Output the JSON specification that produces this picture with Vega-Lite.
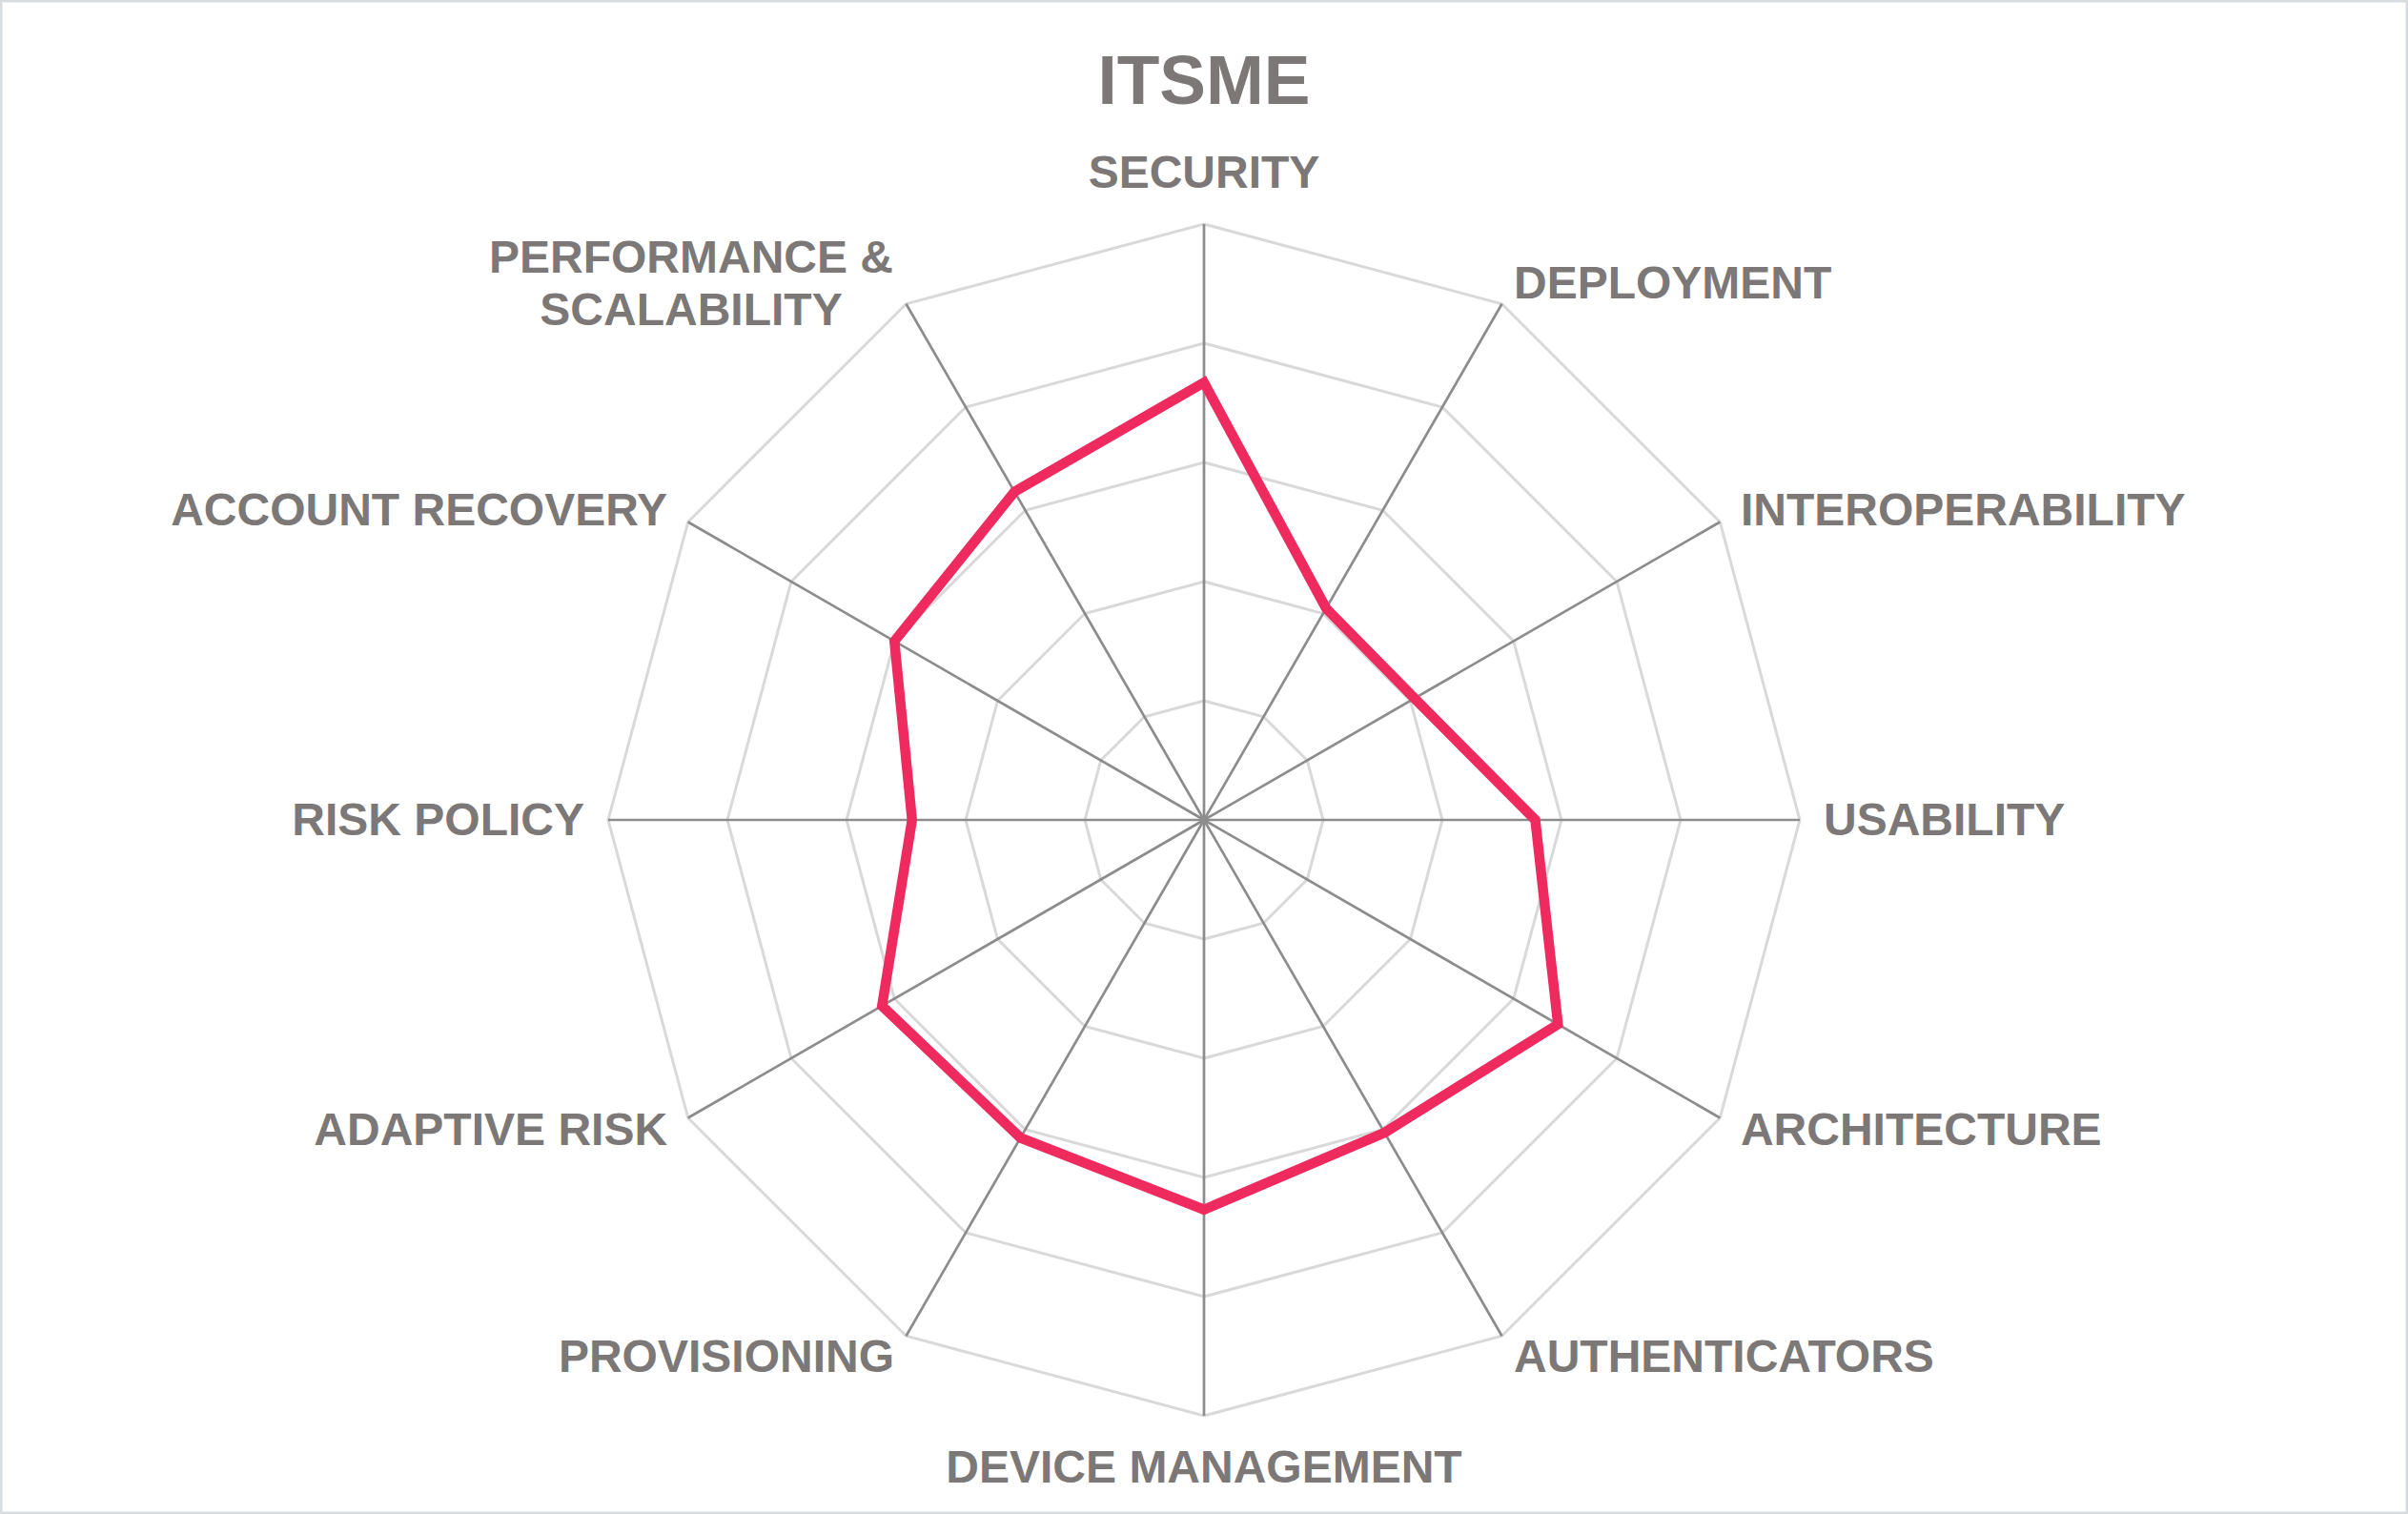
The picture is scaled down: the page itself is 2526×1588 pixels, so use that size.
{
  "$schema": "https://vega.github.io/schema/vega-lite/v6.json",
  "width": 2526,
  "height": 1588,
  "autosize": "none",
  "padding": 0,
  "background": "white",
  "config": {"view": {"stroke": "#d9dcdf", "strokeWidth": 5}, "font": "Liberation Sans"},
  "title": {"text": "ITSME", "fontSize": 73, "fontWeight": "bold", "color": "#7c7877", "font": "Liberation Sans", "anchor": "middle", "baseline": "alphabetic", "offset": -182},
  "data": {"values": [
    {"axis": "SECURITY", "order": 0, "score": 3.67},
    {"axis": "DEPLOYMENT", "order": 1, "score": 2.05},
    {"axis": "INTEROPERABILITY", "order": 2, "score": 2.04},
    {"axis": "USABILITY", "order": 3, "score": 2.78},
    {"axis": "ARCHITECTURE", "order": 4, "score": 3.43},
    {"axis": "AUTHENTICATORS", "order": 5, "score": 3.03},
    {"axis": "DEVICE MANAGEMENT", "order": 6, "score": 3.27},
    {"axis": "PROVISIONING", "order": 7, "score": 3.08},
    {"axis": "ADAPTIVE RISK", "order": 8, "score": 3.12},
    {"axis": "RISK POLICY", "order": 9, "score": 2.45},
    {"axis": "ACCOUNT RECOVERY", "order": 10, "score": 3.0},
    {"axis": "PERFORMANCE &\nSCALABILITY", "order": 11, "score": 3.18}
  ]},
  "transform": [
    {"calculate": "datum.order * PI / 6", "as": "angle"}
  ],
  "layer": [
    {
      "transform": [
        {"calculate": "[1,2,3,4,5]", "as": "rings"},
        {"flatten": ["rings"]},
        {"calculate": "datum.rings * sin(datum.angle)", "as": "gx"},
        {"calculate": "datum.rings * cos(datum.angle)", "as": "gy"}
      ],
      "mark": {"type": "line", "interpolate": "linear-closed", "color": "#d9d9d9", "strokeWidth": 3},
      "encoding": {
        "x": {"field": "gx", "type": "quantitative", "scale": {"domain": [-10.104, 10.104], "nice": false, "zero": false}, "axis": null},
        "y": {"field": "gy", "type": "quantitative", "scale": {"domain": [-5.824, 6.88], "nice": false, "zero": false}, "axis": null},
        "detail": {"field": "rings", "type": "nominal"},
        "order": {"field": "order", "type": "quantitative"}
      }
    },
    {
      "transform": [
        {"calculate": "5 * sin(datum.angle)", "as": "sx"},
        {"calculate": "5 * cos(datum.angle)", "as": "sy"}
      ],
      "mark": {"type": "rule", "color": "#8c8c8c", "strokeWidth": 2.7},
      "encoding": {
        "x": {"field": "sx", "type": "quantitative", "scale": {"domain": [-10.104, 10.104], "nice": false, "zero": false}, "axis": null},
        "y": {"field": "sy", "type": "quantitative", "scale": {"domain": [-5.824, 6.88], "nice": false, "zero": false}, "axis": null},
        "x2": {"datum": 0},
        "y2": {"datum": 0}
      }
    },
    {
      "transform": [
        {"calculate": "datum.score * sin(datum.angle)", "as": "px"},
        {"calculate": "datum.score * cos(datum.angle)", "as": "py"}
      ],
      "mark": {"type": "line", "interpolate": "linear-closed", "color": "#ef2a5f", "strokeWidth": 10.5, "strokeJoin": "miter"},
      "encoding": {
        "x": {"field": "px", "type": "quantitative", "scale": {"domain": [-10.104, 10.104], "nice": false, "zero": false}, "axis": null},
        "y": {"field": "py", "type": "quantitative", "scale": {"domain": [-5.824, 6.88], "nice": false, "zero": false}, "axis": null},
        "order": {"field": "order", "type": "quantitative"}
      }
    },
    {
      "transform": [
        {"filter": "datum.order >= 1 && datum.order <= 5"},
        {"calculate": "5.2 * sin(datum.angle)", "as": "lx"},
        {"calculate": "5.2 * cos(datum.angle)", "as": "ly"}
      ],
      "mark": {"type": "text", "align": "left", "baseline": "middle", "dy": 2, "fontSize": 48, "fontWeight": "bold", "color": "#7c7877", "font": "Liberation Sans"},
      "encoding": {
        "x": {"field": "lx", "type": "quantitative", "scale": {"domain": [-10.104, 10.104], "nice": false, "zero": false}, "axis": null},
        "y": {"field": "ly", "type": "quantitative", "scale": {"domain": [-5.824, 6.88], "nice": false, "zero": false}, "axis": null},
        "text": {"field": "axis", "type": "nominal"}
      }
    },
    {
      "transform": [
        {"filter": "datum.order >= 7 && datum.order <= 10"},
        {"calculate": "5.2 * sin(datum.angle)", "as": "lx"},
        {"calculate": "5.2 * cos(datum.angle)", "as": "ly"}
      ],
      "mark": {"type": "text", "align": "right", "baseline": "middle", "dy": 2, "fontSize": 48, "fontWeight": "bold", "color": "#7c7877", "font": "Liberation Sans"},
      "encoding": {
        "x": {"field": "lx", "type": "quantitative", "scale": {"domain": [-10.104, 10.104], "nice": false, "zero": false}, "axis": null},
        "y": {"field": "ly", "type": "quantitative", "scale": {"domain": [-5.824, 6.88], "nice": false, "zero": false}, "axis": null},
        "text": {"field": "axis", "type": "nominal"}
      }
    },
    {
      "transform": [
        {"filter": "datum.order == 0 || datum.order == 6"},
        {"calculate": "5.43 * sin(datum.angle)", "as": "lx"},
        {"calculate": "5.43 * cos(datum.angle)", "as": "ly"}
      ],
      "mark": {"type": "text", "align": "center", "baseline": "middle", "dy": 2, "fontSize": 48, "fontWeight": "bold", "color": "#7c7877", "font": "Liberation Sans"},
      "encoding": {
        "x": {"field": "lx", "type": "quantitative", "scale": {"domain": [-10.104, 10.104], "nice": false, "zero": false}, "axis": null},
        "y": {"field": "ly", "type": "quantitative", "scale": {"domain": [-5.824, 6.88], "nice": false, "zero": false}, "axis": null},
        "text": {"field": "axis", "type": "nominal"}
      }
    },
    {
      "transform": [
        {"filter": "datum.order == 11"},
        {"calculate": "5.2 * sin(datum.angle)", "as": "lx"},
        {"calculate": "5.2 * cos(datum.angle)", "as": "ly"}
      ],
      "mark": {"type": "text", "align": "center", "baseline": "middle", "dx": -213, "dy": -25, "lineBreak": "\n", "lineHeight": 55, "fontSize": 48, "fontWeight": "bold", "color": "#7c7877", "font": "Liberation Sans"},
      "encoding": {
        "x": {"field": "lx", "type": "quantitative", "scale": {"domain": [-10.104, 10.104], "nice": false, "zero": false}, "axis": null},
        "y": {"field": "ly", "type": "quantitative", "scale": {"domain": [-5.824, 6.88], "nice": false, "zero": false}, "axis": null},
        "text": {"field": "axis", "type": "nominal"}
      }
    }
  ]
}
